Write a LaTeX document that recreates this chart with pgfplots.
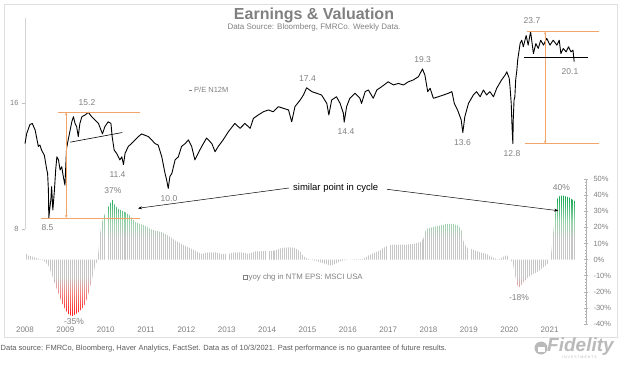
\documentclass[border=0pt]{standalone}
\usepackage{pgfplots}
\pgfplotsset{compat=1.18}
\usepackage{fontspec}
\setmainfont{Liberation Sans}
\usetikzlibrary{arrows.meta}

\definecolor{txtgray}{RGB}{128,128,128}
\definecolor{footgray}{RGB}{90,90,90}
\definecolor{ornge}{RGB}{243,165,105}
\definecolor{bargray}{RGB}{198,198,198}
\definecolor{bargreen}{RGB}{30,170,90}
\definecolor{barlgreen}{RGB}{150,210,170}
\definecolor{barred}{RGB}{255,35,35}
\definecolor{barpink}{RGB}{240,135,135}

\pgfdeclareverticalshading{posshade}{100bp}{color(0bp)=(bargray); color(42bp)=(bargray); color(55bp)=(barlgreen); color(72bp)=(bargreen); color(100bp)=(bargreen)}
\pgfdeclareverticalshading{negshade}{100bp}{color(0bp)=(barred); color(28bp)=(barred); color(47bp)=(barpink); color(60bp)=(bargray); color(100bp)=(bargray)}

\pgfplotstableread{
t pe
2008.00 12.8
2008.04 13.5
2008.12 14.2
2008.18 14.3
2008.25 13.8
2008.29 13.2
2008.33 12.6
2008.37 12.7
2008.41 12.35
2008.48 12.0
2008.54 11.07
2008.56 10.87
2008.58 9.92
2008.59 8.5
2008.62 9.05
2008.64 9.39
2008.66 10.1
2008.69 8.88
2008.73 9.92
2008.76 11.07
2008.79 11.9
2008.83 11.7
2008.87 11.07
2008.91 11.27
2008.95 10.67
2008.99 10.18
2009.01 11.27
2009.03 12.47
2009.07 13.06
2009.12 13.8
2009.16 14.43
2009.20 14.84
2009.24 14.3
2009.28 14.05
2009.32 13.3
2009.36 14.3
2009.41 14.84
2009.49 14.98
2009.57 15.2
2009.65 14.84
2009.73 14.58
2009.82 14.3
2009.92 13.5
2009.98 14.05
2010.06 14.43
2010.13 14.3
2010.16 13.3
2010.21 12.35
2010.27 12.13
2010.35 11.7
2010.40 11.9
2010.44 11.4
2010.48 12.13
2010.56 12.6
2010.64 12.8
2010.73 13.06
2010.81 13.3
2010.89 13.5
2010.97 13.4
2011.06 13.3
2011.14 13.06
2011.22 12.8
2011.30 12.7
2011.39 11.9
2011.47 10.87
2011.51 10.48
2011.55 10.0
2011.59 10.67
2011.64 10.87
2011.72 11.7
2011.80 11.9
2011.88 12.6
2011.97 12.8
2012.05 13.06
2012.13 12.6
2012.21 11.7
2012.29 12.13
2012.38 12.6
2012.50 13.2
2012.63 12.8
2012.71 12.24
2012.79 12.6
2012.91 13.06
2013.04 13.66
2013.20 14.3
2013.33 13.92
2013.45 14.3
2013.58 13.92
2013.66 14.7
2013.78 14.98
2013.91 15.25
2014.03 15.4
2014.15 15.25
2014.28 15.68
2014.40 15.54
2014.53 15.4
2014.61 14.43
2014.69 15.68
2014.82 16.27
2014.90 16.72
2014.98 17.4
2015.11 17.03
2015.23 16.88
2015.35 16.72
2015.48 15.96
2015.53 14.98
2015.60 16.27
2015.72 16.56
2015.81 15.96
2015.89 15.12
2015.91 14.4
2015.97 15.68
2016.05 16.42
2016.18 16.88
2016.30 16.42
2016.34 15.96
2016.43 17.03
2016.51 17.19
2016.63 16.42
2016.72 17.19
2016.84 17.5
2017.00 17.98
2017.13 17.67
2017.25 17.82
2017.38 17.67
2017.50 17.98
2017.62 18.16
2017.75 18.49
2017.85 19.3
2017.91 18.66
2017.98 17.03
2018.04 17.35
2018.12 16.42
2018.24 16.56
2018.37 16.72
2018.49 16.88
2018.58 17.03
2018.64 15.96
2018.72 15.4
2018.81 14.58
2018.85 13.6
2018.90 14.84
2018.99 15.96
2019.11 16.72
2019.19 17.03
2019.28 16.56
2019.36 17.19
2019.44 16.72
2019.52 17.03
2019.61 16.56
2019.69 17.35
2019.81 18.16
2019.90 18.66
2019.94 19.0
2020.00 18.33
2020.02 17.5
2020.05 15.96
2020.07 14.05
2020.09 12.8
2020.10 14.58
2020.12 16.27
2020.14 16.56
2020.16 18.16
2020.19 19.18
2020.21 20.27
2020.24 21.2
2020.27 22.2
2020.31 22.6
2020.35 21.8
2020.42 23.2
2020.47 22.0
2020.53 23.7
2020.60 21.0
2020.66 22.2
2020.72 21.6
2020.78 22.6
2020.85 22.0
2020.93 22.84
2021.01 22.0
2021.09 22.6
2021.18 22.0
2021.24 22.6
2021.28 21.0
2021.34 21.6
2021.41 21.2
2021.47 21.8
2021.53 21.2
2021.58 21.4
2021.61 20.1
}\petable

\pgfplotstableread{
t v
2008.00 4.5
2008.08 2.5
2008.21 1.5
2008.33 0.5
2008.41 0
2009.80 0
2009.86 16
2009.92 24.2
2009.98 28.4
2010.06 32.5
2010.13 35.6
2010.17 37
2010.23 33.5
2010.31 31.5
2010.40 30.4
2010.48 29.4
2010.60 27.3
2010.73 23.2
2010.85 22.1
2010.97 21.1
2011.10 19
2011.22 18
2011.39 17
2011.55 14.9
2011.72 11.8
2011.88 9.7
2012.05 7.6
2012.21 5.6
2012.38 3.5
2012.54 4.5
2012.71 4.5
2012.87 3.5
2013.04 3.5
2013.20 4.5
2013.37 4.5
2013.53 3.5
2013.70 5
2013.87 5.2
2014.03 5.2
2014.20 5.6
2014.36 7.2
2014.53 7.6
2014.69 7.2
2014.82 5
2014.90 2
2014.96 1
2015.06 0
2016.05 0
2016.22 0.1
2016.38 0.4
2016.51 2.5
2016.63 3.9
2016.80 5.6
2016.88 7.3
2017.00 8.7
2017.13 9.3
2017.29 9.3
2017.46 9.3
2017.62 9.7
2017.79 10.7
2017.87 12.8
2017.94 19
2018.04 19.7
2018.16 20.5
2018.29 21.1
2018.45 22.1
2018.61 22.1
2018.74 21.1
2018.82 18
2018.86 11.8
2018.94 7.6
2019.11 6
2019.28 4.5
2019.44 3.5
2019.61 1
2019.73 0
2019.81 1
2019.90 2.5
2019.98 2.5
2020.04 0
2021.00 0
2021.03 1.4
2021.08 13.8
2021.14 28.4
2021.19 37.7
2021.26 39.7
2021.34 39.7
2021.42 39.1
2021.51 38.3
2021.57 37
2021.63 36.2
}\postable

\pgfplotstableread{
t v
2008.41 0
2008.50 -1.5
2008.58 -3.7
2008.66 -9
2008.74 -15
2008.83 -21
2008.91 -26.5
2008.99 -30.6
2009.07 -33.7
2009.16 -35.2
2009.24 -34.1
2009.32 -32.7
2009.41 -30.6
2009.49 -27.5
2009.57 -21.3
2009.65 -13
2009.73 -4.8
2009.80 0
2015.06 0
2015.23 -1
2015.39 -2.3
2015.56 -3.7
2015.64 -3.3
2015.76 -1.7
2015.89 -0.6
2016.05 0
2020.04 0
2020.10 -3.7
2020.14 -8.9
2020.19 -15
2020.23 -17.6
2020.29 -16.1
2020.35 -14.1
2020.47 -11
2020.60 -8.9
2020.72 -7.3
2020.85 -4.8
2020.97 -2.3
2021.00 0
}\negtable

\newcommand{\lbl}{\fontsize{8.5}{10}\selectfont\color{txtgray}}

\begin{document}
\begin{tikzpicture}
\path[use as bounding box] (0pt,0pt) rectangle (624pt,365pt);
\draw[draw=gray!25, line width=0.6pt] (4pt,28pt) rectangle (617pt,361pt);

% ---------- bars (yoy chg in NTM EPS) ----------
\begin{axis}[
  at={(25pt,41pt)}, anchor=south west,
  width=561pt, height=145pt, scale only axis,
  xmin=2008, xmax=2021.903, ymin=-40, ymax=50,
  axis on top,
  axis x line*=bottom, axis y line=none,
  x axis line style={draw=none},
  xtick={2008,2009,2010,2011,2012,2013,2014,2015,2016,2017,2018,2019,2020,2021},
  xticklabels={2008,2009,2010,2011,2012,2013,2014,2015,2016,2017,2018,2019,2020,2021},
  xticklabel style={font=\fontsize{8}{9}\selectfont, text=txtgray, yshift=1pt},
  minor xtick={2008,2008.05,...,2021.9},
  xmajorgrids, xminorgrids,
  major grid style={white, line width=0.35pt},
  minor grid style={white, line width=0.35pt},
  major tick length=0pt, minor tick length=0pt,
  clip=false,
]
\addplot[draw=none, shade, shading=posshade] table[x=t, y=v] {\postable} \closedcycle;
\addplot[draw=none, shade, shading=negshade] table[x=t, y=v] {\negtable} \closedcycle;
\end{axis}

% ---------- right percentage axis ----------
\begin{axis}[
  at={(25pt,41pt)}, anchor=south west,
  width=561pt, height=145pt, scale only axis,
  xmin=2008, xmax=2021.903, ymin=-40, ymax=50,
  axis x line=none, axis y line*=right,
  y axis line style={draw=gray!60},
  ytick={-40,-30,-20,-10,0,10,20,30,40,50},
  yticklabels={-40\%,-30\%,-20\%,-10\%,0\%,10\%,20\%,30\%,40\%,50\%},
  yticklabel style={font=\fontsize{7.5}{9}\selectfont, text=txtgray, xshift=2pt},
  minor y tick num=4,
  tick align=center, major tick length=4pt, minor tick length=2.5pt,
  tick style={gray!60, line width=0.4pt},
]
\end{axis}

% ---------- P/E N12M (log scale) ----------
\begin{axis}[
  at={(25pt,136pt)}, anchor=south west,
  width=561pt, height=211pt, scale only axis,
  xmin=2008, xmax=2021.903,
  ymode=log, log basis y=2, ymin=8, ymax=25.54,
  axis x line=none, axis y line*=left,
  y axis line style={draw=gray!35},
  ytick={8,16}, yticklabels={8,16},
  yticklabel style={font=\fontsize{7.5}{9}\selectfont, text=txtgray},
  tick align=outside, major tick length=3pt,
  tick style={gray!50},
  clip=false,
]
\addplot[black, line width=0.9pt, line join=round] table[x=t, y=pe] {\petable};
% annotations 2009-2010
\draw[ornge, line width=0.75pt] (axis cs:2008.82,15.2) -- (axis cs:2010.85,15.2);
\draw[ornge, line width=0.75pt] (axis cs:2008.40,8.5) -- (axis cs:2010.85,8.5);
\draw[ornge, line width=0.75pt, {Stealth[length=3pt,width=2.5pt]}-{Stealth[length=3pt,width=2.5pt]}] (axis cs:2009.02,15.2) -- (axis cs:2009.02,8.5);
\draw[black, line width=0.6pt] (axis cs:2009.12,12.9) -- (axis cs:2010.41,13.6);
% annotations 2020-2021
\draw[ornge, line width=0.75pt] (axis cs:2020.43,23.7) -- (axis cs:2022.23,23.7);
\draw[ornge, line width=0.75pt] (axis cs:2020.39,12.8) -- (axis cs:2022.23,12.8);
\draw[ornge, line width=0.75pt, {Stealth[length=3pt,width=2.5pt]}-{Stealth[length=3pt,width=2.5pt]}] (axis cs:2020.89,23.7) -- (axis cs:2020.89,12.8);
\draw[black, line width=0.8pt] (axis cs:2020.37,20.6) -- (axis cs:2021.96,20.6);
\end{axis}

% ---------- titles ----------
\node[font=\fontsize{16}{18}\selectfont\bfseries, text=txtgray] at (314pt,350pt) {Earnings \& Valuation};
\node[font=\fontsize{8}{9}\selectfont, text=txtgray] at (314pt,337.3pt) {Data Source: Bloomberg, FMRCo. Weekly Data.};

% ---------- value labels ----------
\node[font=\lbl] at (532pt,344pt) {23.7};
\node[font=\lbl] at (570pt,293pt) {20.1};
\node[font=\lbl] at (87pt,262.3pt) {15.2};
\node[font=\lbl] at (47.5pt,137.3pt) {8.5};
\node[font=\lbl] at (117.5pt,190pt) {11.4};
\node[font=\lbl] at (169pt,166.7pt) {10.0};
\node[font=\lbl] at (307.5pt,286.7pt) {17.4};
\node[font=\lbl] at (346pt,233.3pt) {14.4};
\node[font=\lbl] at (422.7pt,305.7pt) {19.3};
\node[font=\lbl] at (462.5pt,222.3pt) {13.6};
\node[font=\lbl] at (512pt,211pt) {12.8};
\node[font=\lbl] at (113pt,174pt) {37\%};
\node[font=\lbl] at (561.5pt,177.7pt) {40\%};
\node[font=\lbl] at (74pt,43pt) {-35\%};
\node[font=\lbl] at (519pt,67.3pt) {-18\%};

% ---------- legends ----------
\draw[txtgray, line width=0.5pt] (189pt,275pt) -- (192pt,275pt);
\node[font=\fontsize{7.5}{9}\selectfont, text=txtgray, anchor=west, inner sep=0pt] at (194pt,275pt) {P/E N12M};
\draw[txtgray, line width=0.4pt] (243.5pt,86pt) rectangle (247pt,89.5pt);
\node[font=\fontsize{7.8}{9}\selectfont, text=txtgray, anchor=west, inner sep=0pt] at (248.5pt,88pt) {yoy chg in NTM EPS: MSCI USA};

% ---------- similar point ----------
\node[font=\fontsize{9.5}{11}\selectfont, anchor=west, inner sep=0pt] at (293pt,177pt) {similar point in cycle};
\draw[black, line width=0.5pt, -{Stealth[length=4pt,width=3pt]}] (289pt,177pt) -- (138pt,156.7pt);
\draw[black, line width=0.5pt, -{Stealth[length=4pt,width=3pt]}] (387pt,175.7pt) -- (558.3pt,154.3pt);

% ---------- footnote and logo ----------
\node[font=\fontsize{7.5}{9}\selectfont, text=footgray, anchor=west, inner sep=0pt] at (0.5pt,16.5pt) {Data source: FMRCo, Bloomberg, Haver Analytics, FactSet. Data as of 10/3/2021. Past performance is no guarantee of future results.};
\fill[gray!55] (541pt,17pt) circle (6.5pt);
\fill[white] (537.5pt,13.5pt) rectangle (544.5pt,18pt);
\node[font=\fontsize{19}{21}\selectfont\bfseries\itshape, text=gray!55, anchor=west, inner sep=0pt] at (547pt,18.5pt) {Fidelity};
\node[font=\fontsize{3.5}{4}\selectfont, text=gray!55, anchor=west, inner sep=0pt] at (562pt,8pt) {I N V E S T M E N T S};
\end{tikzpicture}
\end{document}
